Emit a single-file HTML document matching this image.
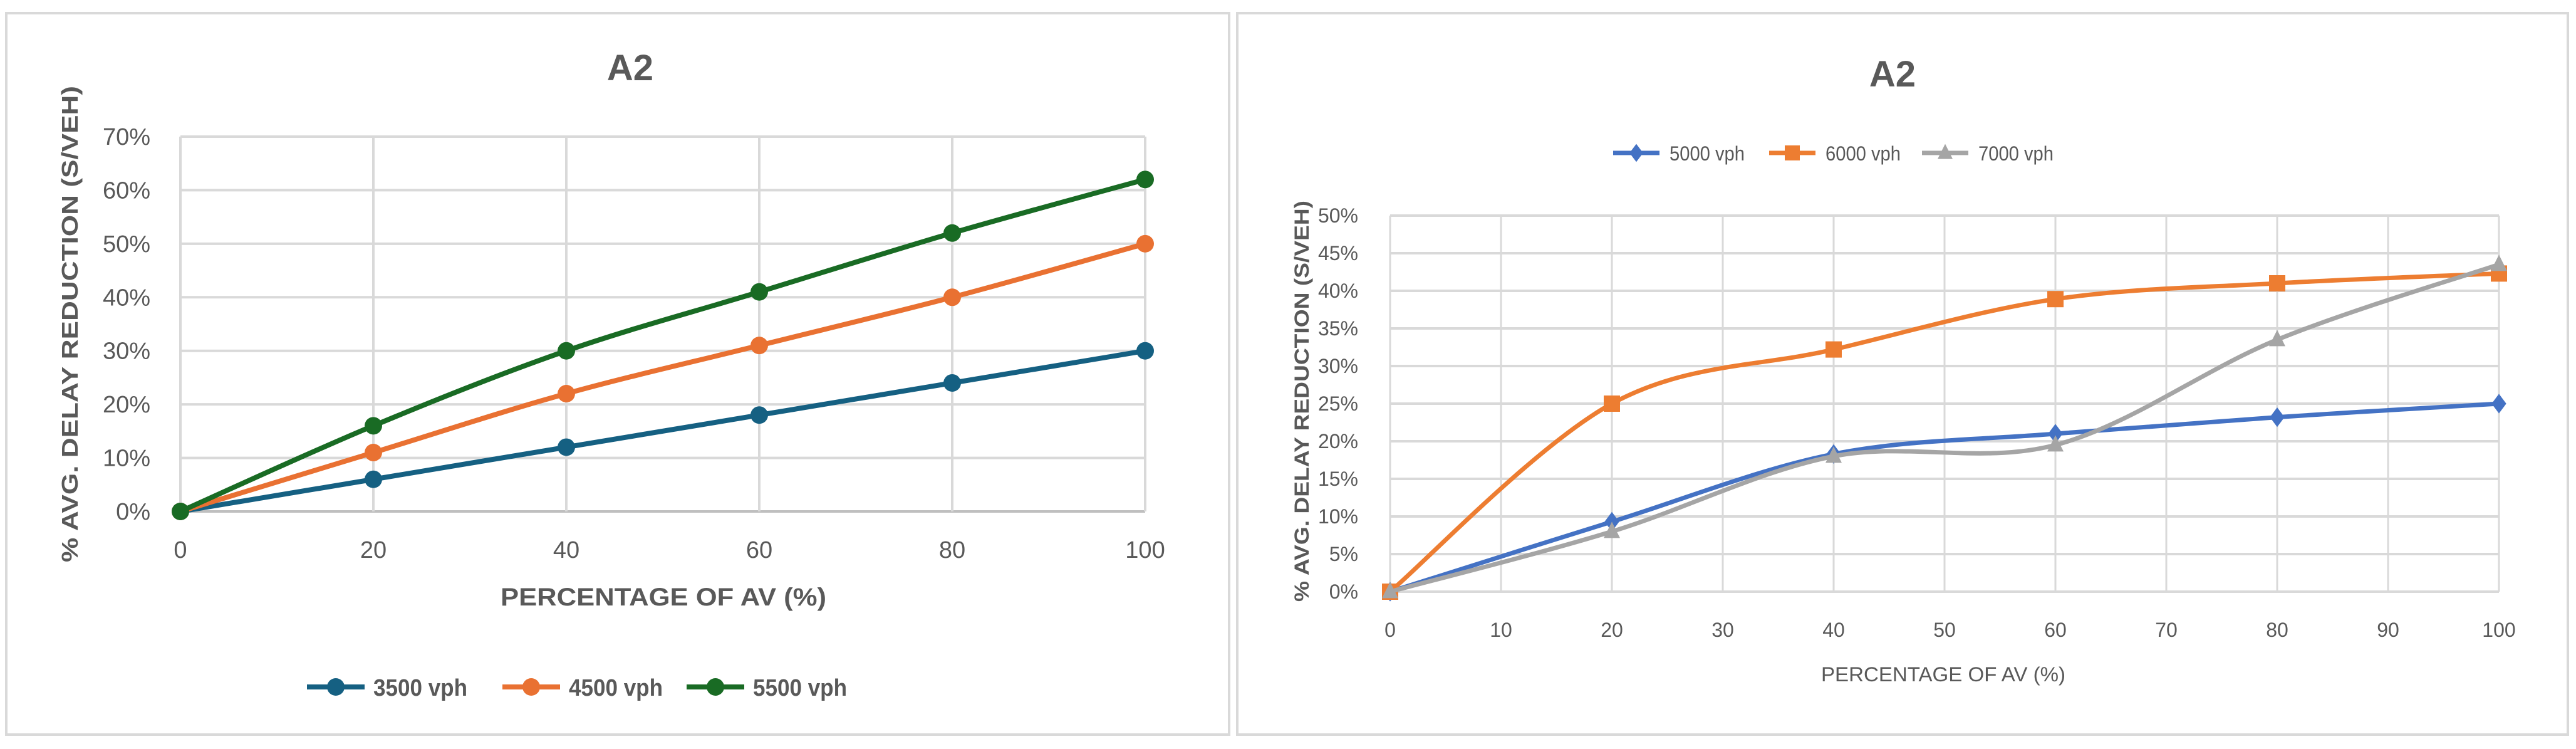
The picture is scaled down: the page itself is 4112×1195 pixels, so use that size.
<!DOCTYPE html>
<html><head><meta charset="utf-8"><style>
html,body{margin:0;padding:0;background:#fff;width:4112px;height:1195px;overflow:hidden}
svg text{font-family:"Liberation Sans",sans-serif}
</style></head><body>
<svg id="svg" width="4112" height="1195" viewBox="0 0 4112 1195" xmlns="http://www.w3.org/2000/svg">
<rect x="10" y="21" width="1952" height="1151" fill="#fff" stroke="#d9d9d9" stroke-width="4"/>
<rect x="1975" y="21" width="2124" height="1151" fill="#fff" stroke="#d9d9d9" stroke-width="4"/>
<g id="L"></g>
<g id="R"></g>
</svg>
<script>
const leftX=[0,20,40,60,80,100];
const left3500=[0,6,12,18,24,30];
const left4500=[0,11,22,31,40,50];
const left5500=[0,16,30,41,52,62];
const leftYTicks=[0,10,20,30,40,50,60,70];
const rightX=[0,20,40,60,80,100];
const right5000=[0,9.3,18.3,21,23.2,25];
const right6000=[0,25,32.2,38.9,41,42.3];
const right7000=[0,8,18,19.5,33.5,43.5];
const rightYTicks=[0,5,10,15,20,25,30,35,40,45,50];
const rightXTicks=[0,10,20,30,40,50,60,70,80,90,100];

const NS="http://www.w3.org/2000/svg";
function mk(p,t,a,txt){const e=document.createElementNS(NS,t);for(const k in a)e.setAttribute(k,a[k]);if(txt!==undefined)e.textContent=txt;p.appendChild(e);return e;}
function smooth(pts){let d=`M${pts[0][0]},${pts[0][1]}`;for(let i=0;i<pts.length-1;i++){const p0=pts[i-1]||pts[i],p1=pts[i],p2=pts[i+1],p3=pts[i+2]||p2;const t=6;d+=` C${p1[0]+(p2[0]-p0[0])/t},${p1[1]+(p2[1]-p0[1])/t} ${p2[0]-(p3[0]-p1[0])/t},${p2[1]-(p3[1]-p1[1])/t} ${p2[0]},${p2[1]}`;}return d;}
function marker(g,shape,x,y,c,s){
 let m;
 if(shape==='circle')m=mk(g,'circle',{cx:x,cy:y,r:s,fill:c});
 else if(shape==='square')m=mk(g,'rect',{x:x-s,y:y-s,width:2*s,height:2*s,fill:c});
 else if(shape==='diamond')m=mk(g,'path',{d:`M${x},${y-s*1.2}L${x+s*0.9},${y}L${x},${y+s*1.2}L${x-s*0.9},${y}Z`,fill:c});
 else m=mk(g,'path',{d:`M${x},${y-s*1.2}L${x+s},${y+s*0.8}L${x-s},${y+s*0.8}Z`,fill:c});
 return m;}

// LEFT
(function(){
 const g=document.getElementById('L');
 const x0=288,x1=1828,y0=816,y1=218;
 const sx=v=>x0+(v-0)/(100)*(x1-x0), sy=v=>y0-v/70*(y0-y1);
 let t=mk(g,'text',{x:1006,y:128,'font-size':58,'font-weight':'bold',fill:'#595959','text-anchor':'middle'},'A2');
 
 leftYTicks.forEach(v=>{let l=mk(g,'line',{x1:x0,x2:x1,y1:sy(v),y2:sy(v),stroke:v===0?'#bfbfbf':'#d9d9d9','stroke-width':4});
  
  let tx=mk(g,'text',{x:240,y:sy(v)+13,'font-size':38,fill:'#595959','text-anchor':'end'},v+'%');
  });
 leftX.forEach(v=>{let l=mk(g,'line',{x1:sx(v),x2:sx(v),y1:y1,y2:y0,stroke:'#d9d9d9','stroke-width':4});
  
  let tx=mk(g,'text',{x:sx(v),y:890,'font-size':38,fill:'#595959','text-anchor':'middle'},String(v));
  });
 t=mk(g,'text',{x:1059,y:966,'font-size':40,'font-weight':'bold',fill:'#595959','text-anchor':'middle',textLength:520,lengthAdjust:'spacingAndGlyphs'},'PERCENTAGE OF AV (%)');
 
 t=mk(g,'text',{x:0,y:0,transform:'translate(124,517) rotate(-90)','font-size':36,'font-weight':'bold',fill:'#595959','text-anchor':'middle',textLength:760,lengthAdjust:'spacingAndGlyphs'},'% AVG. DELAY REDUCTION (S/VEH)');
 
 const series=[[left3500,'#156082','3500 vph',490],[left4500,'#e97132','4500 vph',802],[left5500,'#196b24','5500 vph',1096]];
 series.forEach(([d,c,name,lx])=>{
  const p=mk(g,'path',{d:smooth(leftX.map((v,i)=>[sx(v),sy(d[i])])),fill:'none',stroke:c,'stroke-width':8});
  
  leftX.forEach((v,i)=>{const m=marker(g,'circle',sx(v),sy(d[i]),c,14);
   });
  const lg=mk(g,'g',{});
  mk(lg,'line',{x1:lx,x2:lx+92,y1:1096,y2:1096,stroke:c,'stroke-width':8});
  marker(lg,'circle',lx+46,1096,c,14);
  mk(lg,'text',{x:lx+106,y:1110,'font-size':38,'font-weight':'bold',fill:'#595959',textLength:150,lengthAdjust:'spacingAndGlyphs'},name);
 });
})();

// RIGHT
(function(){
 const g=document.getElementById('R');
 const x0=2219,x1=3989,y0=944,y1=344;
 const sx=v=>x0+v/100*(x1-x0), sy=v=>y0-v/50*(y0-y1);
 let t=mk(g,'text',{x:3021,y:138,'font-size':58,'font-weight':'bold',fill:'#595959','text-anchor':'middle'},'A2');
 
 rightYTicks.forEach(v=>{let l=mk(g,'line',{x1:x0,x2:x1,y1:sy(v),y2:sy(v),stroke:'#d9d9d9','stroke-width':4});
  
  let tx=mk(g,'text',{x:2168,y:sy(v)+11,'font-size':32,fill:'#595959','text-anchor':'end'},v+'%');
  });
 rightXTicks.forEach(v=>{let l=mk(g,'line',{x1:sx(v),x2:sx(v),y1:y1,y2:y0,stroke:'#d9d9d9','stroke-width':3});
  
  let tx=mk(g,'text',{x:sx(v),y:1016,'font-size':32,fill:'#595959','text-anchor':'middle'},String(v));
  });
 t=mk(g,'text',{x:3102,y:1087,'font-size':32,fill:'#595959','text-anchor':'middle',textLength:390,lengthAdjust:'spacingAndGlyphs'},'PERCENTAGE OF AV (%)');
 
 t=mk(g,'text',{x:0,y:0,transform:'translate(2089,640) rotate(-90)','font-size':32,'font-weight':'bold',fill:'#595959','text-anchor':'middle',textLength:640,lengthAdjust:'spacingAndGlyphs'},'% AVG. DELAY REDUCTION (S/VEH)');
 
 const series=[[right5000,'#4472c4','5000 vph','diamond',2575],[right6000,'#ed7d31','6000 vph','square',2824],[right7000,'#a5a5a5','7000 vph','triangle',3068]];
 series.forEach(([d,c,name,sh,lx])=>{
  const p=mk(g,'path',{d:smooth(rightX.map((v,i)=>[sx(v),sy(d[i])])),fill:'none',stroke:c,'stroke-width':7});
  
  rightX.forEach((v,i)=>{const m=marker(g,sh,sx(v),sy(d[i]),c,13);
   });
  const lg=mk(g,'g',{});
  mk(lg,'line',{x1:lx,x2:lx+74,y1:244,y2:244,stroke:c,'stroke-width':7});
  marker(lg,sh,lx+37,244,c,12);
  mk(lg,'text',{x:lx+90,y:256,'font-size':32,fill:'#595959',textLength:120,lengthAdjust:'spacingAndGlyphs'},name);
 });
})();
</script>
</body></html>
